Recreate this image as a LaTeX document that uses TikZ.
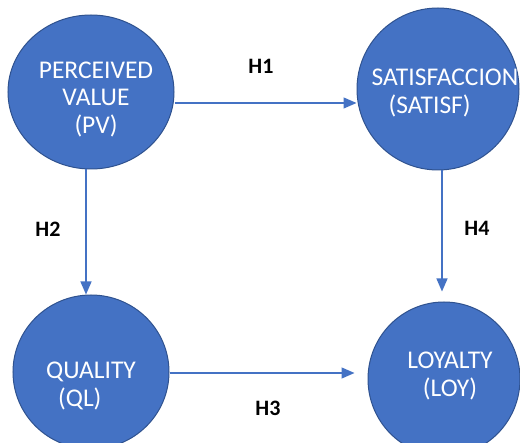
\documentclass[tikz,border=0pt]{standalone}
\usepackage{fontspec}
\setmainfont{Carlito}
\usetikzlibrary{shapes.geometric,arrows.meta}
\definecolor{nodeblue}{HTML}{4472C4}
\definecolor{edgeblue}{HTML}{2F528F}
\tikzset{
  construct/.style={ellipse, fill=nodeblue, draw=edgeblue, line width=1pt, inner sep=0pt},
  ctext/.style={text=white, font=\fontsize{25.5}{27.5}\selectfont, align=center, inner sep=0pt},
  hyp/.style={text=black, font=\fontsize{22}{24}\selectfont\bfseries, inner sep=0pt},
  arr/.style={draw=nodeblue, line width=1.3pt, -{Triangle[length=13pt,width=11pt]}}
}
\begin{document}
\begin{tikzpicture}[x=1pt,y=-1pt]
\useasboundingbox (0,0) rectangle (520,443);
\clip (0,0) rectangle (520,443);
\fill[white] (0,0) rectangle (520,443);
\node[construct, minimum width=166pt, minimum height=154pt] (PV) at (91,92) {};
\node[construct, minimum width=162pt, minimum height=162pt] (SAT) at (438,89) {};
\node[construct, minimum width=156pt, minimum height=154pt] (QL) at (91,372) {};
\node[construct, minimum width=152pt, minimum height=154pt] (LOY) at (444,379) {};
\node[ctext] (PVt) at (96,99) {PERCEIVED\\VALUE\\(PV)};
\node[ctext, align=left] (SATt) at (445,93) {SATISFACCION\\\hspace*{17pt}(SATISF)};
\node[ctext, align=left] (QLt) at (91,386) {QUALITY\\\hspace*{12pt}(QL)};
\node[ctext] (LOYt) at (450,376) {LOYALTY\\(LOY)};
\draw[arr] ([yshift=-11pt]PV.east) -- ([yshift=-11pt]PV.east -| SAT.west);
\draw[arr] ([xshift=-5pt]PV.south) -- ([xshift=-5pt]PV.south |- QL.north);
\draw[arr, shorten >=13pt] ([yshift=-1pt]QL.east) -- ([yshift=-1pt]QL.east -| LOY.west);
\draw[arr, shorten >=10pt] ([xshift=4pt]SAT.south) -- ([xshift=4pt]SAT.south |- LOY.north);
\node[hyp] (H1) at (261,66) {H1};
\node[hyp] (H2) at (48,229) {H2};
\node[hyp] (H3) at (268,408) {H3};
\node[hyp] (H4) at (477,228) {H4};
\end{tikzpicture}
\end{document}
